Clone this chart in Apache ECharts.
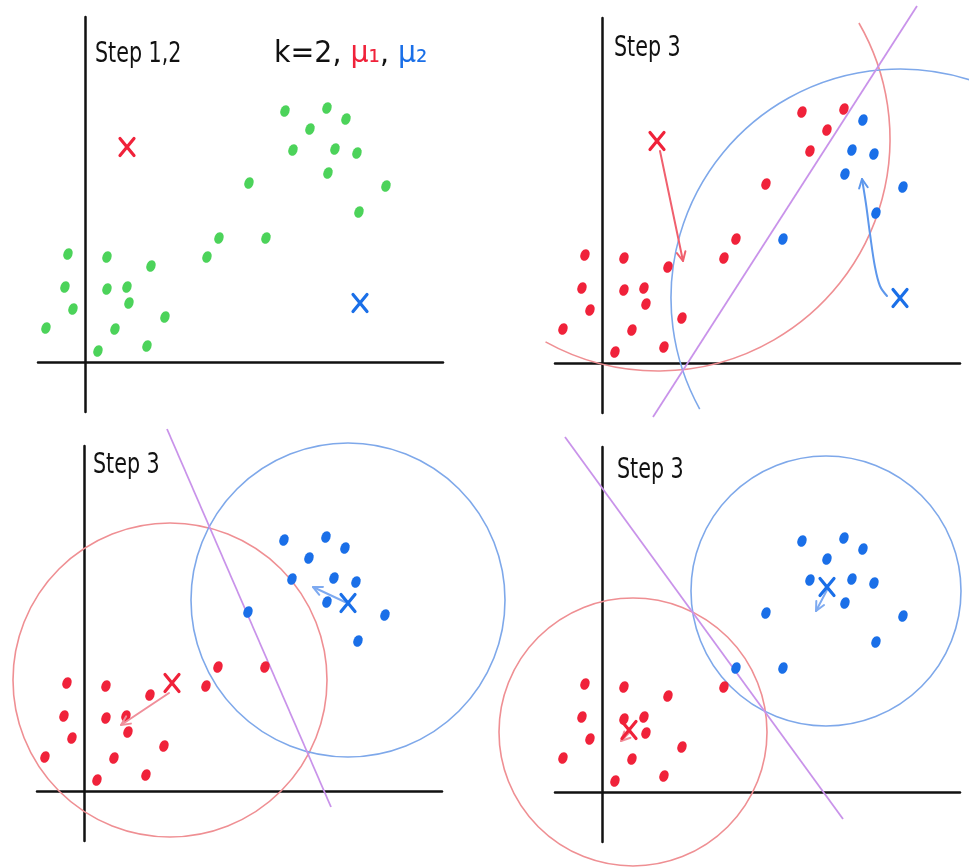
<!DOCTYPE html>
<html><head><meta charset="utf-8">
<script src="https://cdn.jsdelivr.net/npm/echarts@6/dist/echarts.min.js"></script>
<style>html,body{margin:0;padding:0;background:#fff}#c{width:969px;height:867px}</style>
</head><body><div id="c"></div>
<script>
// ---- data (axis units; the same sketch of 27 points appears in every panel) ----
const pointX = [-17, 22, 66, 122, 134, 181, -20, 22, 42, 44, -12, -39, 30, 80, 13, 62, 164, 200, 242, 261, 225, 208, 250, 272, 243, 301, 274];
const pointY = [108, 105, 96, 105, 124, 124, 75, 73, 75, 59, 53, 34, 33, 45, 11, 16, 179, 251, 254, 243, 233, 212, 213, 209, 189, 176, 150];
// cluster of each point in each panel: 0 = unassigned, 1 = mu1 (red), 2 = mu2 (blue)
const clusterPanel1 = [0,0,0,0,0,0,0,0,0,0,0,0,0,0,0,0,0,0,0,0,0,0,0,0,0,0,0];
const clusterPanel2 = [1,1,1,1,1,2,1,1,1,1,1,1,1,1,1,1,1,1,1,2,1,1,2,2,2,2,2];
const clusterPanel3 = [1,1,1,1,1,1,1,1,1,1,1,1,1,1,1,1,2,2,2,2,2,2,2,2,2,2,2];
const clusterPanel4 = [1,1,1,1,2,2,1,1,1,1,1,1,1,1,1,1,2,2,2,2,2,2,2,2,2,2,2];
// centroids per panel
const mu1X = [42, 55, 88, 27];
const mu1Y = [215, 222, 108, 62];
const mu2X = [275, 298, 264, 225];
const mu2Y = [59, 65, 188, 205];
// circles: [panel, cx, cy, r, startDeg, endDeg, cluster]
const circles = [
  [1, 56, 224, 232, -30, 119, 1],
  [1, 298, 65, 229, 151, 290, 2],
  [2, 86, 111, 157, 0, 360, 1],
  [2, 264, 191, 157, 0, 360, 2],
  [3, 31, 60, 134, 0, 360, 1],
  [3, 224, 201, 135, 0, 360, 2]
];
// perpendicular bisectors per panel (two end points)
const bisectors = [
  null,
  [[315, 357], [51, -54]],
  [[83, 362], [247, -16]],
  [[-37, 355], [241, -27]]
];
// centroid move arrows: [panel, cluster, points...]
const arrows = [
  [1, 1, [[58, 212], [81, 102]]],
  [1, 2, [[285, 67], [278, 77], [273, 96], [268, 129], [264, 159], [260, 184]]],
  [2, 1, [[85, 98], [37, 66]]],
  [2, 2, [[261, 189], [229, 204]]],
  [3, 1, [[27, 59], [19, 51]]],
  [3, 2, [[225, 202], [214, 181]]]
];
const panelTitles = ['Step 1,2', 'Step 3', 'Step 3', 'Step 3'];
const clusters = [clusterPanel1, clusterPanel2, clusterPanel3, clusterPanel4];

// ---- styling ----
const pointColor = {0: '#4cd35a', 1: '#f0223a', 2: '#1a6fe8'};
const circleColor = {1: '#ef8f93', 2: '#7ea8ea'};
const arrowColor = [{1: '#f0606e', 2: '#5d97ec'}, {1: '#f0606e', 2: '#5d97ec'}, {1: '#f08e9a', 2: '#7eaaf0'}, {1: '#f08e9a', 2: '#7eaaf0'}];
const gridPos = [[38, 17], [555, 18], [37, 446], [555, 447]];
const X_MIN = -47, X_MAX = 358, Y_MIN = -50, Y_MAX = 345;

const grids = [], xAxes = [], yAxes = [], series = [];
const axisCommon = {
  type: 'value', axisTick: {show: false}, axisLabel: {show: false}, splitLine: {show: false},
  axisLine: {show: true, onZero: true, lineStyle: {color: '#111', width: 2.5}}
};
for (let p = 0; p < 4; p++) {
  grids.push({left: gridPos[p][0], top: gridPos[p][1], width: X_MAX - X_MIN, height: Y_MAX - Y_MIN, containLabel: false});
  xAxes.push(Object.assign({gridIndex: p, min: X_MIN, max: X_MAX}, axisCommon));
  yAxes.push(Object.assign({gridIndex: p, min: Y_MIN, max: Y_MAX}, axisCommon));

  // circles
  const circ = circles.filter(c => c[0] === p).map(c => c.slice(1));
  if (circ.length) {
    series.push({
      type: 'custom', xAxisIndex: p, yAxisIndex: p, clip: false, z: 1, silent: true,
      data: circ,
      renderItem: function (params, api) {
        const c = api.coord([api.value(0), api.value(1)]);
        const r = api.size([api.value(2), 0])[0];
        const a0 = api.value(3) * Math.PI / 180, a1 = api.value(4) * Math.PI / 180;
        const col = circleColor[api.value(5)];
        if (api.value(4) - api.value(3) >= 360) {
          return {type: 'circle', shape: {cx: c[0], cy: c[1], r: r}, style: {fill: 'none', stroke: col, lineWidth: 1.6}};
        }
        return {type: 'arc', shape: {cx: c[0], cy: c[1], r: r, startAngle: a0, endAngle: a1, clockwise: true},
          style: {fill: 'none', stroke: col, lineWidth: 1.6}};
      }
    });
  }
  // bisector
  if (bisectors[p]) {
    series.push({
      type: 'line', xAxisIndex: p, yAxisIndex: p, clip: false, z: 2, silent: true,
      data: bisectors[p], showSymbol: false, symbol: 'none',
      lineStyle: {color: '#c993ea', width: 1.8}
    });
  }
  // points
  const cl = clusters[p];
  series.push({
    type: 'scatter', xAxisIndex: p, yAxisIndex: p, z: 5, silent: true,
    symbol: 'circle', symbolSize: [9, 12], symbolRotate: -22,
    data: pointX.map((x, i) => ({value: [x, pointY[i]], itemStyle: {color: pointColor[cl[i]], opacity: 1}}))
  });
  // arrows
  const arr = arrows.filter(a => a[0] === p);
  if (arr.length) {
    series.push({
      type: 'custom', xAxisIndex: p, yAxisIndex: p, clip: false, z: 6, silent: true,
      data: arr.map((a, i) => [a[2][0][0], a[2][0][1], i]),
      renderItem: function (params, api) {
        const a = arr[api.value(2)];
        const col = arrowColor[p][a[1]];
        const pts = a[2].map(q => api.coord(q));
        const n = pts.length;
        const e = pts[n - 1], s = pts[n - 2];
        const ang = Math.atan2(e[1] - s[1], e[0] - s[0]);
        const L = 10, w = 0.45;
        const h1 = [e[0] - L * Math.cos(ang - w), e[1] - L * Math.sin(ang - w)];
        const h2 = [e[0] - L * Math.cos(ang + w), e[1] - L * Math.sin(ang + w)];
        return {type: 'group', children: [
          {type: 'polyline', shape: {points: pts, smooth: n > 2 ? 0.35 : 0}, style: {stroke: col, lineWidth: 2, fill: 'none', lineCap: 'round'}},
          {type: 'polyline', shape: {points: [h1, e, h2]}, style: {stroke: col, lineWidth: 2, fill: 'none', lineCap: 'round', lineJoin: 'round'}}
        ]};
      }
    });
  }
  // centroid crosses
  series.push({
    type: 'custom', xAxisIndex: p, yAxisIndex: p, clip: false, z: 7, silent: true,
    data: [[mu1X[p], mu1Y[p], 1], [mu2X[p], mu2Y[p], 2]],
    renderItem: function (params, api) {
      const c = api.coord([api.value(0), api.value(1)]);
      const col = pointColor[api.value(2)];
      const hx = 7, hy = 8.5;
      const st = {stroke: col, lineWidth: 3.2, lineCap: 'round'};
      return {type: 'group', children: [
        {type: 'line', shape: {x1: c[0] - hx, y1: c[1] - hy, x2: c[0] + hx, y2: c[1] + hy}, style: st},
        {type: 'line', shape: {x1: c[0] + hx, y1: c[1] - hy, x2: c[0] - hx, y2: c[1] + hy}, style: st}
      ]};
    }
  });
}

const titleFont = '"Liberation Sans Narrow", "DejaVu Sans Condensed", sans-serif';
const titleTops = [[95, 41], [614, 35], [93, 452], [617, 457]];
const graphic = panelTitles.map((t, i) => ({
  type: 'text', x: titleTops[i][0], y: titleTops[i][1], z: 10, scaleX: 0.82,
  style: {text: t, fill: '#111', font: '500 28px ' + titleFont}
}));
graphic.push({
  type: 'text', x: 274, y: 38, z: 10, scaleX: 1.02,
  style: {
    text: '{a|k=2, }{r|μ₁}{a|, }{b|μ₂}',
    rich: {
      a: {fill: '#111', fontSize: 31, fontFamily: titleFont},
      r: {fill: pointColor[1], fontSize: 31, fontFamily: titleFont},
      b: {fill: pointColor[2], fontSize: 31, fontFamily: titleFont}
    }
  }
});

const chart = echarts.init(document.getElementById('c'), null, {renderer: 'canvas'});
chart.setOption({
  animation: false,
  backgroundColor: '#ffffff',
  grid: grids, xAxis: xAxes, yAxis: yAxes,
  series: series,
  graphic: graphic
});
</script>
</body></html>
